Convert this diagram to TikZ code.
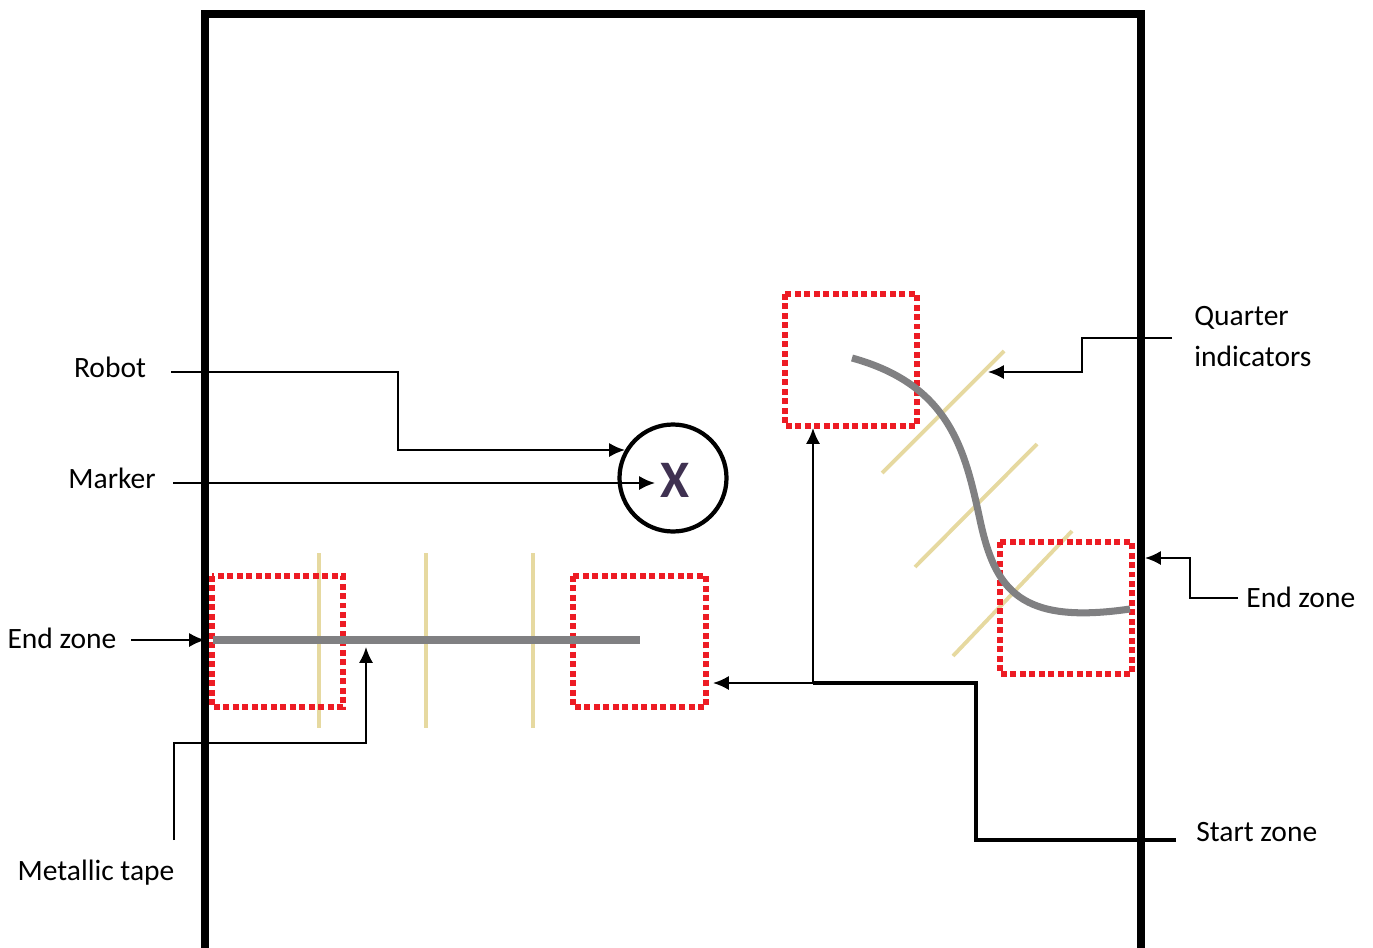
\documentclass[tikz,border=0pt]{standalone}
\usepackage{fontspec}
\setmainfont{Carlito}
\usetikzlibrary{arrows.meta,calc}
\definecolor{zonered}{RGB}{237,28,36}
\definecolor{tapegrey}{RGB}{128,128,130}
\definecolor{quartercol}{RGB}{230,217,160}
\definecolor{markcol}{RGB}{63,49,81}
\tikzset{
  zone/.style={draw=zonered,line width=3.2pt,dash pattern=on 3.4pt off 2pt},
  tape/.style={draw=tapegrey,line width=4pt},
  quarter/.style={draw=quartercol,line width=2.2pt},
  pointer/.style={line width=1.2pt,-{Latex[length=9pt,width=8pt]}},
  lbl/.style={font=\fontsize{16.8}{23}\selectfont,inner sep=0pt}
}
\begin{document}
\begin{tikzpicture}[x=0.02cm,y=-0.02cm]
  \useasboundingbox (0,0) rectangle (1373,947);
  % arena
  \draw[line width=5pt] (205,960) -- (205,14) -- (1141,14) -- (1141,960);
  % quarter indicators
  \foreach \x in {319,426,533}
    \draw[quarter] (\x,553) -- (\x,728);
  \draw[quarter] (882,473) -- (1004,351);
  \draw[quarter] (915,567) -- (1037,444);
  \draw[quarter] (953,656) -- (1072,531);
  % zones
  \draw[zone] (212,576) rectangle (343,707);
  \draw[zone] (573,576) rectangle (706,707);
  \draw[zone] (785,294) rectangle (917,426);
  \draw[zone] (1000,542) rectangle (1132,674);
  % metallic tape
  \coordinate (tapeA) at (213,640);
  \coordinate (tapeB) at (640,640);
  \draw[tape] (tapeA) -- (tapeB);
  \draw[tape] (852,358) .. controls (950,385) and (965,450) .. (980,520)
              .. controls (995,590) and (1020,625) .. (1130,609);
  % robot
  \node[circle,draw,line width=2.4pt,minimum size=107*0.02cm] (robot) at (673,478) {};
  \node[text=markcol,font=\fontsize{30}{34}\selectfont\bfseries] (marker) at (675,480) {X};
  % labels
  \node[lbl,anchor=base] (lrobot) at (110,377) {Robot};
  \node[lbl,anchor=base] (lmarker) at (112,488) {Marker};
  \node[lbl,anchor=base] (lendL) at (62,648) {End zone};
  \node[lbl,anchor=base] (ltape) at (96,880) {Metallic tape};
  \node[lbl,anchor=base west,align=left] (lquarter) at (1194,366) {Quarter\\indicators};
  \node[lbl,anchor=base west] (lendR) at (1246,607) {End zone};
  \node[lbl,anchor=base west] (lstart) at (1196,841) {Start zone};
  % pointers
  \draw[pointer] (171,372) -- (398,372) -- (398,450) -- (625,450);
  \draw[pointer] (173,483) -- (655,483);
  \draw[pointer] (131,640) -- (205,640);
  \draw[pointer] (174,840) -- (174,743) -- (366,743) -- (366,647);
  \draw[pointer] (1172,338) -- (1082,338) -- (1082,372) -- (988,372);
  \draw[pointer] (1238,598) -- (1190,598) -- (1190,558) -- (1145,558);
  \coordinate (split) at (813,683);
  \draw[line width=1.8pt] (1176,840) -- (976,840) -- (976,683) -- (split);
  \draw[pointer] (split) -- (713,683);
  \draw[pointer] (split) -- (813,428);
\end{tikzpicture}
\end{document}
